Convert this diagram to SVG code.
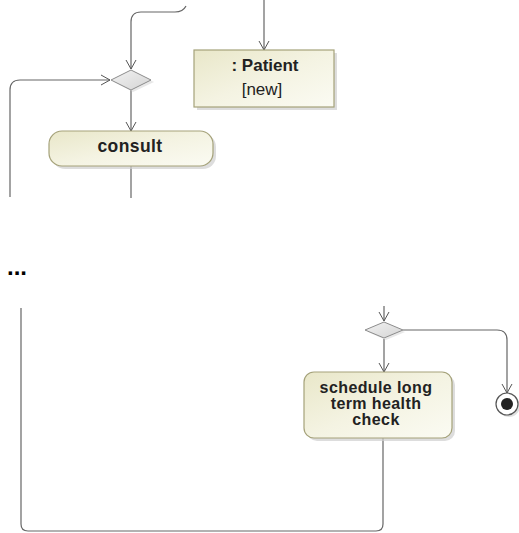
<svg xmlns="http://www.w3.org/2000/svg" width="519" height="533" viewBox="0 0 519 533">
<defs>
<linearGradient id="act" x1="0" y1="0" x2="1" y2="1">
<stop offset="0" stop-color="#e9e7c9"/>
<stop offset="0.5" stop-color="#f4f3e2"/>
<stop offset="1" stop-color="#fbfbf3"/>
</linearGradient>
<linearGradient id="dia" x1="0" y1="0" x2="1" y2="1">
<stop offset="0" stop-color="#f2f2f2"/>
<stop offset="1" stop-color="#d4d4d4"/>
</linearGradient>
<marker id="arr" markerWidth="12" markerHeight="12" refX="10" refY="6" orient="auto" markerUnits="userSpaceOnUse">
<path d="M1,1 L10,6 L1,11" fill="none" stroke="#555" stroke-width="1"/>
</marker>
</defs>
<style>
.edge{fill:none;stroke:#666;stroke-width:1.2}
.act{fill:url(#act);stroke:#a5a27a;stroke-width:1.2}
.shadow{fill:#cfcfcf;opacity:0.7}
.dia{fill:url(#dia);stroke:#8c8c8c;stroke-width:1}
.t{font-family:"Liberation Sans",Arial,sans-serif;font-size:17px;fill:#222;text-anchor:middle}
.b{font-weight:bold}
.s{font-size:16px;letter-spacing:0.4px}
</style>
<rect width="519" height="533" fill="#fff"/>
<g id="connectors">
<path class="edge" d="M186,6 Q183,12 175,12 L141,12 Q131,12 131,22 L131,69" marker-end="url(#arr)"/>
<path class="edge" d="M10,197 L10,90 Q10,80 20,80 L110,80" marker-end="url(#arr)"/>
<path class="edge" d="M131,90 L131,131" marker-end="url(#arr)"/>
<path class="edge" d="M131,166 L131,198"/>
<path class="edge" d="M264,0 L264,50" marker-end="url(#arr)"/>
<path class="edge" d="M384,306 L384,321" marker-end="url(#arr)"/>
<path class="edge" d="M384,339 L384,372" marker-end="url(#arr)"/>
<path class="edge" d="M403,330 L497,330 Q507,330 507,340 L507,393" marker-end="url(#arr)"/>
<path class="edge" d="M21,308 L21,524 Q21,531 28,531 L376,531 Q383,531 383,524 L383,438"/>
</g>
<g id="merge1">
<polygon points="133,72 154,82 133,92 114,82" fill="#d8d8d8" opacity="0.6"/>
<polygon class="dia" points="131,70 151,80 131,90 111,80"/>
</g>
<g id="consult">
<rect x="52" y="134" width="164" height="35" rx="13" class="shadow"/>
<rect x="49" y="131" width="164" height="35" rx="13" class="act"/>
<text class="t b" x="130" y="152" style="font-size:17.5px;letter-spacing:0.4px">consult</text>
</g>
<g id="patient">
<rect x="197" y="53" width="140" height="57" class="shadow"/>
<rect x="194" y="50" width="140" height="57" class="act"/>
<text class="t b" x="265" y="71">: Patient</text>
<text class="t" x="262" y="95">[new]</text>
</g>
<text x="7" y="275" style="font-family:'Liberation Sans',Arial,sans-serif;font-size:24px;font-weight:bold;fill:#000">...</text>
<g id="decision2">
<polygon points="386,324 405,332 386,340 368,332" fill="#d8d8d8" opacity="0.6"/>
<polygon class="dia" points="384,322 403,330 384,338 365,330"/>
</g>
<g id="schedule">
<rect x="307" y="375" width="148" height="66" rx="10" class="shadow"/>
<rect x="304" y="372" width="148" height="66" rx="10" class="act"/>
<text class="t b s" x="376" y="393">schedule long</text>
<text class="t b s" x="376" y="409">term health</text>
<text class="t b s" x="376" y="425">check</text>
</g>
<g id="final">
<circle cx="509" cy="406" r="11" fill="#ccc" opacity="0.6"/>
<circle cx="507" cy="404" r="11" fill="#fff" stroke="#555" stroke-width="1.2"/>
<circle cx="507" cy="404" r="6" fill="#222"/>
</g>
</svg>
